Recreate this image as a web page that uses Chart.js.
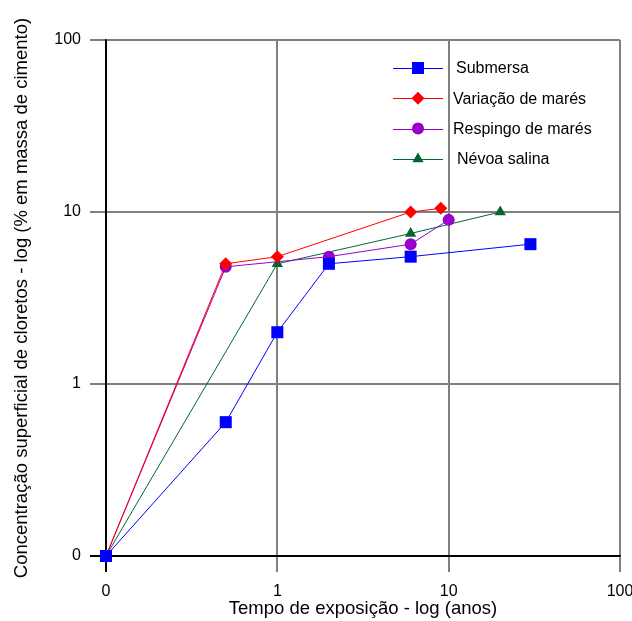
<!DOCTYPE html>
<html>
<head>
<meta charset="utf-8">
<script src="https://cdn.jsdelivr.net/npm/chart.js@4.4.1/dist/chart.umd.min.js"></script>
<style>
  html, body { margin: 0; padding: 0; background: #fff; }
  #wrap { width: 632px; height: 621px; position: relative; }
</style>
</head>
<body>
<div id="wrap"><canvas id="chartCloretos"></canvas></div>
<script>
/* ===== DADOS ===== */
// tempo de exposição (anos) e concentração (% em massa de cimento)
const submersaX  = [0.1, 0.5, 1, 2, 6, 30];
const submersaY  = [0.1, 0.6, 2, 5, 5.5, 6.5];
const variacaoX  = [0.1, 0.5, 1, 6, 9];
const variacaoY  = [0.1, 5, 5.5, 10, 10.5];
const respingoX  = [0.1, 0.5, 2, 6, 10];
const respingoY  = [0.1, 4.8, 5.5, 6.5, 9];
const nevoaX     = [0.1, 1, 6, 20];
const nevoaY     = [0.1, 5, 7.5, 10];

const tickValues = [0.1, 1, 10, 100];
const tickLabels = ['0', '1', '10', '100'];

const FONT = "'Liberation Sans', Arial, sans-serif";
const GRID = '#808080';

function pts(xs, ys){ return xs.map((x, i) => ({ x: x, y: ys[i] })); }

function serie(label, xs, ys, color, style, radius){
  return {
    label: label, data: pts(xs, ys),
    borderColor: color, backgroundColor: color,
    borderWidth: 1, pointStyle: style, pointRadius: radius,
    pointBorderWidth: 0, pointHoverRadius: radius, clip: false
  };
}

// legenda desenhada à mão: linha + marcador, sem caixa
const legendaLinha = {
  id: 'legendaLinha',
  afterDatasetsDraw(chart){
    const ctx = chart.ctx;
    const x0 = 393, x1 = 443;
    const xt = [456, 453, 453, 457];
    chart.data.datasets.forEach((ds, i) => {
      const y = 68 + i * 30.3;
      ctx.save();
      ctx.strokeStyle = ds.borderColor;
      ctx.lineWidth = 1;
      ctx.beginPath(); ctx.moveTo(x0, Math.round(y) + 0.5); ctx.lineTo(x1, Math.round(y) + 0.5); ctx.stroke();
      ctx.fillStyle = ds.backgroundColor;
      Chart.helpers.drawPoint(ctx, { pointStyle: ds.pointStyle, radius: ds.pointRadius, rotation: 0, borderWidth: 0 }, (x0 + x1) / 2, y);
      ctx.fillStyle = '#000';
      ctx.font = '16px ' + FONT;
      ctx.textBaseline = 'middle';
      ctx.fillText(ds.label, xt[i], y + 1);
      ctx.restore();
    });
  }
};

function eixoLog(titulo, isX){
  return {
    type: 'logarithmic', min: 0.1, max: 100,
    afterBuildTicks: s => { s.ticks = tickValues.map(v => ({ value: v })); },
    afterFit: s => {
      if (isX) { s.height = 65; s.paddingLeft = 0; s.paddingRight = 12; }
      else { s.width = 106; s.paddingTop = 0; s.paddingBottom = 0; }
    },
    ticks: {
      autoSkip: false, maxRotation: 0, padding: isX ? 10 : 9,
      color: '#000', font: { family: FONT, size: 16 },
      callback: (v, i) => tickLabels[i]
    },
    grid: {
      color: c => c.index === 0 ? '#000' : GRID,
      tickColor: c => c.index === 0 ? '#000' : GRID,
      lineWidth: 2, tickLength: 16, drawTicks: true
    },
    border: { display: true, color: '#000', width: 1.5 },
    title: {
      display: true, text: titulo, color: '#000',
      font: { family: FONT, size: 18.5 },
      padding: isX ? { top: 0, bottom: 1 } : { top: 11, bottom: 0 }
    }
  };
}

new Chart(document.getElementById('chartCloretos'), {
  type: 'line',
  data: {
    datasets: [
      serie('Submersa', submersaX, submersaY, '#0000ff', 'rect', 8.5),
      serie('Variação de marés', variacaoX, variacaoY, '#ff0000', 'rectRot', 6.5),
      serie('Respingo de marés', respingoX, respingoY, '#9900cc', 'circle', 6),
      serie('Névoa salina', nevoaX, nevoaY, '#006633', 'triangle', 6.5)
    ]
  },
  options: {
    responsive: true, maintainAspectRatio: false, animation: false,
    layout: { padding: { top: 40, right: 0, left: 0, bottom: 0 } },
    plugins: { legend: { display: false }, tooltip: { enabled: false } },
    elements: { line: { tension: 0 } },
    scales: {
      x: eixoLog('Tempo de exposição - log (anos)', true),
      y: eixoLog('Concentração superficial de cloretos - log (% em massa de cimento)', false)
    }
  },
  plugins: [legendaLinha]
});
</script>
</body>
</html>
